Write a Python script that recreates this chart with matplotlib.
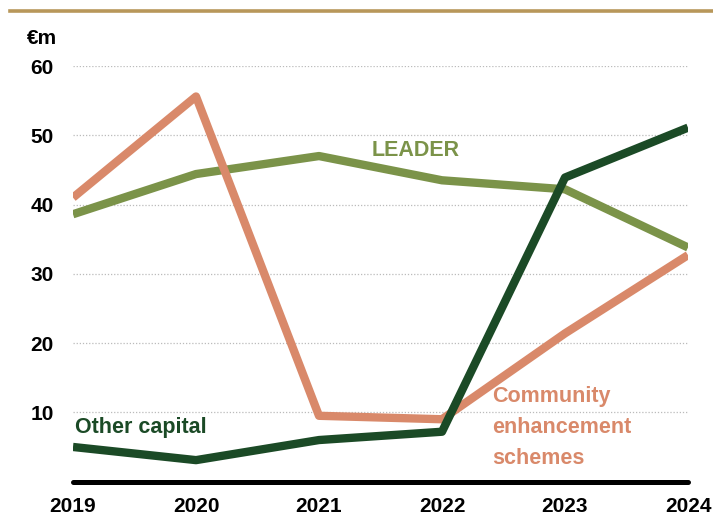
import matplotlib.pyplot as plt
import matplotlib.lines as mlines

plt.rcParams['font.family'] = ['Liberation Sans', 'DejaVu Sans']

years = [2019, 2020, 2021, 2022, 2023, 2024]
leader = [38.6, 44.4, 47.0, 43.5, 42.2, 33.8]
community = [41.0, 55.6, 9.5, 9.0, 21.4, 32.7]
other_capital = [5.0, 3.1, 6.0, 7.2, 43.9, 51.1]
yticks = [10, 20, 30, 40, 50, 60]

c_leader = '#7b9349'
c_comm = '#d9896a'
c_other = '#1b4a26'

fig = plt.figure(figsize=(7.13, 5.16), dpi=100)
ax = fig.add_axes([73 / 713, 1 - 481.6 / 516, (688 - 73) / 713, (481.6 - 66) / 516])
ax.set_xlim(2019, 2024)
ax.set_ylim(0, 60)

# dotted gridlines
for v in yticks:
    ax.axhline(v, color='#bbbbbb', lw=0.9, ls=(0, (1, 1.5)), zorder=1)

lw = 6.0
ax.plot(years, leader, color=c_leader, lw=lw, solid_capstyle='butt', zorder=3)
ax.plot(years, community, color=c_comm, lw=lw, solid_capstyle='butt', zorder=3)
ax.plot(years, other_capital, color=c_other, lw=lw, solid_capstyle='butt', zorder=4)

# bottom axis line
ax.plot([2019, 2024], [0, 0], color='black', lw=3.6, solid_capstyle='round',
        clip_on=False, zorder=5)

for s in ax.spines.values():
    s.set_visible(False)
ax.set_yticks(yticks)
ax.set_yticklabels([str(v) for v in yticks], fontsize=15, fontweight='bold')
ax.set_xticks(years)
ax.set_xticklabels([str(y) for y in years], fontsize=15, fontweight='bold')
ax.tick_params(axis='y', length=0, pad=14)
ax.tick_params(axis='x', length=0, pad=11)

# series labels
lab = 15.5
ax.text(2021.43, 47.8, 'LEADER', color=c_leader, fontsize=lab, fontweight='bold',
        va='center', ha='left')
ax.text(2019.02, 7.8, 'Other capital', color=c_other, fontsize=lab, fontweight='bold',
        va='center', ha='left')
ax.text(2022.41, 12.3, 'Community', color=c_comm, fontsize=lab, fontweight='bold',
        va='center', ha='left')
ax.text(2022.41, 7.8, 'enhancement', color=c_comm, fontsize=lab, fontweight='bold',
        va='center', ha='left')
ax.text(2022.41, 3.4, 'schemes', color=c_comm, fontsize=lab, fontweight='bold',
        va='center', ha='left')

fig.text(42 / 713, 1 - 38 / 516, '€m', fontsize=15, fontweight='bold',
         ha='center', va='center')

# gold rule at top
fig.add_artist(mlines.Line2D([10 / 713, 1], [1 - 10.5 / 516] * 2, color='#b8975a',
                             lw=2.6, transform=fig.transFigure))

fig.savefig('out.png', dpi=100)
